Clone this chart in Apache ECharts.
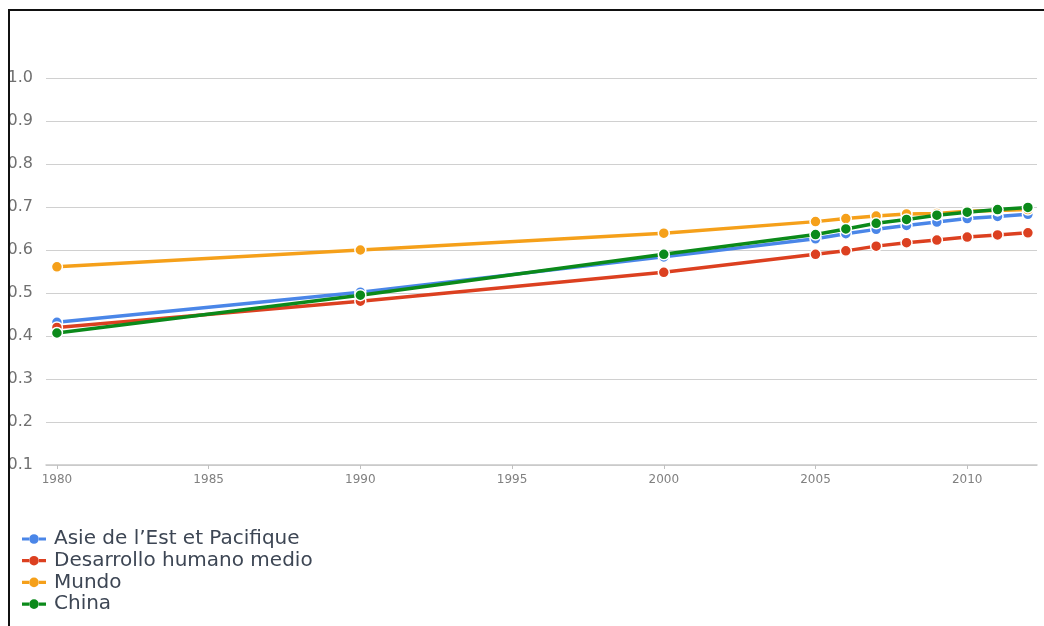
<!DOCTYPE html>
<html>
<head>
<meta charset="utf-8">
<script src="https://cdn.jsdelivr.net/npm/echarts@6/dist/echarts.min.js"></script>
<style>
html,body{margin:0;padding:0;background:#fff;width:1044px;height:626px;overflow:hidden;}
#frame{position:absolute;left:8px;top:9px;width:1036px;height:617px;border-left:2px solid #111;border-top:2px solid #111;overflow:hidden;background:#fff;}
#chart{position:absolute;left:-10px;top:-11px;width:1044px;height:626px;}
</style>
</head>
<body>
<div id="frame"><div id="chart"></div></div>
<script>
var years = [1980, 1990, 2000, 2005, 2006, 2007, 2008, 2009, 2010, 2011, 2012];
var seriesNames = ["Asie de l\u2019Est et Pacifique", "Desarrollo humano medio", "Mundo", "China"];
var asiaEst = [0.432, 0.502, 0.584, 0.626, 0.638, 0.648, 0.657, 0.665, 0.673, 0.678, 0.683];
var desarrolloMedio = [0.420, 0.481, 0.548, 0.590, 0.598, 0.609, 0.617, 0.623, 0.630, 0.635, 0.640];
var mundo = [0.561, 0.600, 0.639, 0.666, 0.673, 0.679, 0.684, 0.685, 0.690, 0.692, 0.694];
var china = [0.407, 0.495, 0.590, 0.636, 0.649, 0.662, 0.671, 0.681, 0.688, 0.694, 0.699];
var xTicks = [1980, 1985, 1990, 1995, 2000, 2005, 2010];
var yTicks = [0.1, 0.2, 0.3, 0.4, 0.5, 0.6, 0.7, 0.8, 0.9, 1.0];

var colors = ["#4a86e8", "#dc4020", "#f5a01a", "#0b8a1a"];
var seriesData = [asiaEst, desarrolloMedio, mundo, china];
var legendIcon = 'path://M0,4.4 L7,4.4 L7,7.6 L0,7.6 Z M17,4.4 L24,4.4 L24,7.6 L17,7.6 Z M12,1.2 A4.8,4.8 0 1,1 11.99,1.2 Z';

function pairs(arr){ return years.map(function(y,i){ return [y, arr[i]]; }); }

var chart = echarts.init(document.getElementById('chart'), null, {renderer:'canvas'});
chart.setOption({
  animation: false,
  color: colors,
  grid: {left: 46, right: 7, top: 78, bottom: 161, containLabel: false},
  xAxis: {
    type: 'value',
    min: 1979.64, max: 2012.3,
    axisLine: {show: true, lineStyle: {color: '#c8c8c8', width: 1.5}},
    axisTick: {show: true, length: 4, customValues: xTicks, lineStyle: {color: '#c0c0c0'}},
    axisLabel: {customValues: xTicks, color: '#808080', fontSize: 12, fontFamily: 'DejaVu Sans', margin: 9,
      formatter: function(v){ return String(Math.round(v)); }},
    splitLine: {show: false}
  },
  yAxis: {
    type: 'value',
    min: 0.1, max: 1.0, interval: 0.1,
    axisLine: {show: false},
    axisTick: {show: false},
    axisLabel: {customValues: yTicks, color: '#707070', fontSize: 16, fontFamily: 'DejaVu Sans', margin: 13,
      formatter: function(v){ return v.toFixed(1); }},
    splitLine: {show: true, lineStyle: {color: '#d0d0d0', width: 1.2}}
  },
  legend: {
    show: true,
    orient: 'vertical',
    left: 17, top: 524,
    itemWidth: 24, itemHeight: 12,
    itemGap: 1.7,
    icon: legendIcon,
    itemStyle: {borderWidth: 0, borderColor: 'transparent'},
    lineStyle: {width: 0},
    textStyle: {color: '#3d4654', fontSize: 20, lineHeight: 18, fontFamily: 'DejaVu Sans', padding: [0,0,0,3]},
    data: seriesNames
  },
  series: seriesData.map(function(arr, i){
    return {
      name: seriesNames[i],
      type: 'line',
      data: pairs(arr),
      symbol: 'circle',
      symbolSize: 11,
      lineStyle: {width: 3.5, color: colors[i]},
      itemStyle: {color: colors[i], borderColor: '#fff', borderWidth: 1.5},
      z: 2 + i
    };
  })
});
</script>
</body>
</html>
